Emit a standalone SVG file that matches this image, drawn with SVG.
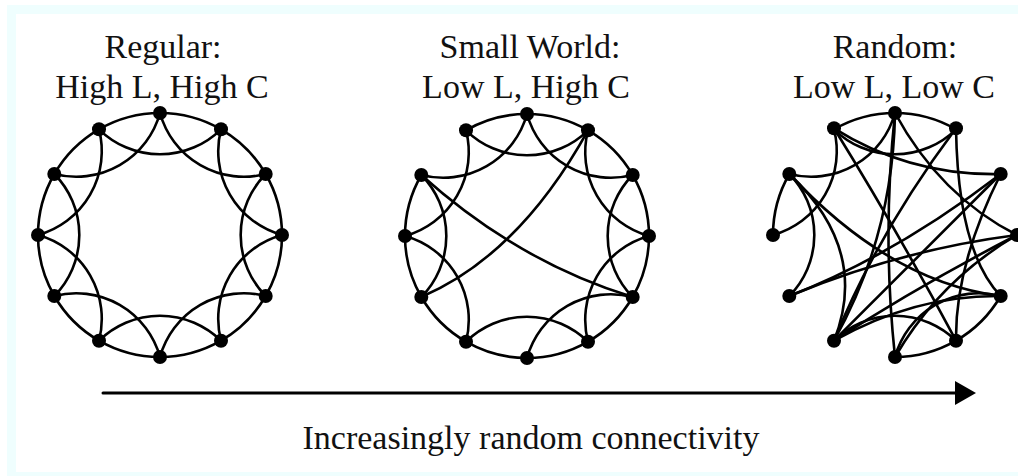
<svg xmlns="http://www.w3.org/2000/svg" xmlns:xlink="http://www.w3.org/1999/xlink" width="1018" height="476" viewBox="0 0 1018 476">
<style>
.e{fill:none;stroke:#000;stroke-width:2.6;stroke-linecap:round}
.n{fill:#000}
.t{font-family:"Liberation Serif","Times New Roman",serif;font-size:34px;fill:#111;text-anchor:middle}
</style>
<defs>
<path id="adj" class="e" d="M0 -122 A122 122 0 0 1 61 -105.66"/>
<path id="chd" class="e" d="M0 -122 A87 87 0 0 0 105.66 -61"/>
</defs>
<rect x="0" y="0" width="1018" height="476" fill="#fff"/>
<rect x="7" y="5" width="1011" height="471" fill="#effefe"/>
<rect x="16" y="14" width="1002" height="458" fill="#fff"/>
<g id="labels">
<text class="t" x="163" y="58">Regular:</text>
<text class="t" x="162" y="98">High L, High C</text>
<text class="t" x="530" y="58">Small World:</text>
<text class="t" x="526" y="98">Low L, High C</text>
<text class="t" x="895" y="58">Random:</text>
<text class="t" x="894" y="98">Low L, Low C</text>
<text class="t" x="531" y="449">Increasingly random connectivity</text>
</g>
<g id="connectors">
<g id="regular-edges" transform="translate(160,235)">
<use href="#adj"/><use href="#adj" transform="rotate(30)"/><use href="#adj" transform="rotate(60)"/><use href="#adj" transform="rotate(90)"/><use href="#adj" transform="rotate(120)"/><use href="#adj" transform="rotate(150)"/><use href="#adj" transform="rotate(180)"/><use href="#adj" transform="rotate(210)"/><use href="#adj" transform="rotate(240)"/><use href="#adj" transform="rotate(270)"/><use href="#adj" transform="rotate(300)"/><use href="#adj" transform="rotate(330)"/>
<use href="#chd"/><use href="#chd" transform="rotate(30)"/><use href="#chd" transform="rotate(60)"/><use href="#chd" transform="rotate(90)"/><use href="#chd" transform="rotate(120)"/><use href="#chd" transform="rotate(150)"/><use href="#chd" transform="rotate(180)"/><use href="#chd" transform="rotate(210)"/><use href="#chd" transform="rotate(240)"/><use href="#chd" transform="rotate(270)"/><use href="#chd" transform="rotate(300)"/><use href="#chd" transform="rotate(330)"/>
</g>
<g id="smallworld-edges" transform="translate(527,236)">
<use href="#adj"/><use href="#adj" transform="rotate(30)"/><use href="#adj" transform="rotate(60)"/><use href="#adj" transform="rotate(90)"/><use href="#adj" transform="rotate(120)"/><use href="#adj" transform="rotate(150)"/><use href="#adj" transform="rotate(180)"/><use href="#adj" transform="rotate(210)"/><use href="#adj" transform="rotate(240)"/><use href="#adj" transform="rotate(270)"/><use href="#adj" transform="rotate(330)"/>
<use href="#chd"/><use href="#chd" transform="rotate(30)"/><use href="#chd" transform="rotate(60)"/><use href="#chd" transform="rotate(90)"/><use href="#chd" transform="rotate(120)"/><use href="#chd" transform="rotate(150)"/><use href="#chd" transform="rotate(210)"/><use href="#chd" transform="rotate(240)"/><use href="#chd" transform="rotate(270)"/><use href="#chd" transform="rotate(300)"/><use href="#chd" transform="rotate(330)"/>
</g>
<path class="e" d="M421.3 175 Q518 262 632.7 297"/>
<path class="e" d="M421.3 297 Q519 255 588 130.3"/>
<g id="random-edges" transform="translate(895,235)">
<use href="#adj" transform="rotate(330)"/><use href="#adj"/><use href="#adj" transform="rotate(270)"/><use href="#adj" transform="rotate(120)"/><use href="#adj" transform="rotate(150)"/>
<use href="#chd" transform="rotate(330)"/><use href="#chd" transform="rotate(300)"/><use href="#chd" transform="rotate(270)"/><use href="#chd" transform="rotate(240)"/><use href="#chd" transform="rotate(150)"/><use href="#chd" transform="rotate(120)"/>
</g>
<path class="e" d="M834 128.3 Q910 176 1000.7 174"/>
<path class="e" d="M895 113 Q940 196 1017 235"/>
<path class="e" d="M895 113 Q882 235 895 357"/>
<path class="e" d="M895 113 Q893 235 834 340.7"/>
<path class="e" d="M956 128.3 Q958 252 1000.7 296"/>
<path class="e" d="M956 128.3 Q877 234 834 340.7"/>
<path class="e" d="M834 128.3 Q897 230 956 340.7"/>
<path class="e" d="M1000.7 174 Q917 258 834 340.7"/>
<path class="e" d="M1000.7 174 Q895 255 789.3 296"/>
<path class="e" d="M1000.7 174 Q955 265 956 340.7"/>
<path class="e" d="M1017 235 Q920 285 834 340.7"/>
<path class="e" d="M1017 235 Q900 250 789.3 296"/>
<path class="e" d="M1017 235 Q940 280 895 357"/>
<path class="e" d="M789.3 174 Q870 250 834 340.7"/>
<path class="e" d="M789.3 174 Q890 282 1000.7 296"/>
<path class="e" d="M834 340.7 Q915 295 1000.7 296"/>
<path class="e" d="M103 393 H958" style="stroke-width:3"/>
<polygon points="955,381 976,393 955,405" fill="#000"/>
</g>
<g id="regular-nodes" class="n">
<circle id="r0" cx="160" cy="113" r="7"/><circle id="r1" cx="221" cy="129.3" r="7"/><circle id="r2" cx="265.7" cy="174" r="7"/><circle id="r3" cx="282" cy="235" r="7"/><circle id="r4" cx="265.7" cy="296" r="7"/><circle id="r5" cx="221" cy="340.7" r="7"/><circle id="r6" cx="160" cy="357" r="7"/><circle id="r7" cx="99" cy="340.7" r="7"/><circle id="r8" cx="54.3" cy="296" r="7"/><circle id="r9" cx="38" cy="235" r="7"/><circle id="r10" cx="54.3" cy="174" r="7"/><circle id="r11" cx="99" cy="129.3" r="7"/>
</g>
<g id="smallworld-nodes" class="n">
<circle id="s0" cx="527" cy="114" r="7"/><circle id="s1" cx="588" cy="130.3" r="7"/><circle id="s2" cx="632.7" cy="175" r="7"/><circle id="s3" cx="649" cy="236" r="7"/><circle id="s4" cx="632.7" cy="297" r="7"/><circle id="s5" cx="588" cy="341.7" r="7"/><circle id="s6" cx="527" cy="358" r="7"/><circle id="s7" cx="466" cy="341.7" r="7"/><circle id="s8" cx="421.3" cy="297" r="7"/><circle id="s9" cx="405" cy="236" r="7"/><circle id="s10" cx="421.3" cy="175" r="7"/><circle id="s11" cx="466" cy="130.3" r="7"/>
</g>
<g id="random-nodes" class="n">
<circle id="n0" cx="895" cy="113" r="7"/><circle id="n1" cx="956" cy="128.3" r="7"/><circle id="n2" cx="1000.7" cy="174" r="7"/><circle id="n3" cx="1017" cy="235" r="7"/><circle id="n4" cx="1000.7" cy="296" r="7"/><circle id="n5" cx="956" cy="340.7" r="7"/><circle id="n6" cx="895" cy="357" r="7"/><circle id="n7" cx="834" cy="340.7" r="7"/><circle id="n8" cx="789.3" cy="296" r="7"/><circle id="n9" cx="773" cy="235" r="7"/><circle id="n10" cx="789.3" cy="174" r="7"/><circle id="n11" cx="834" cy="128.3" r="7"/>
</g>
</svg>
